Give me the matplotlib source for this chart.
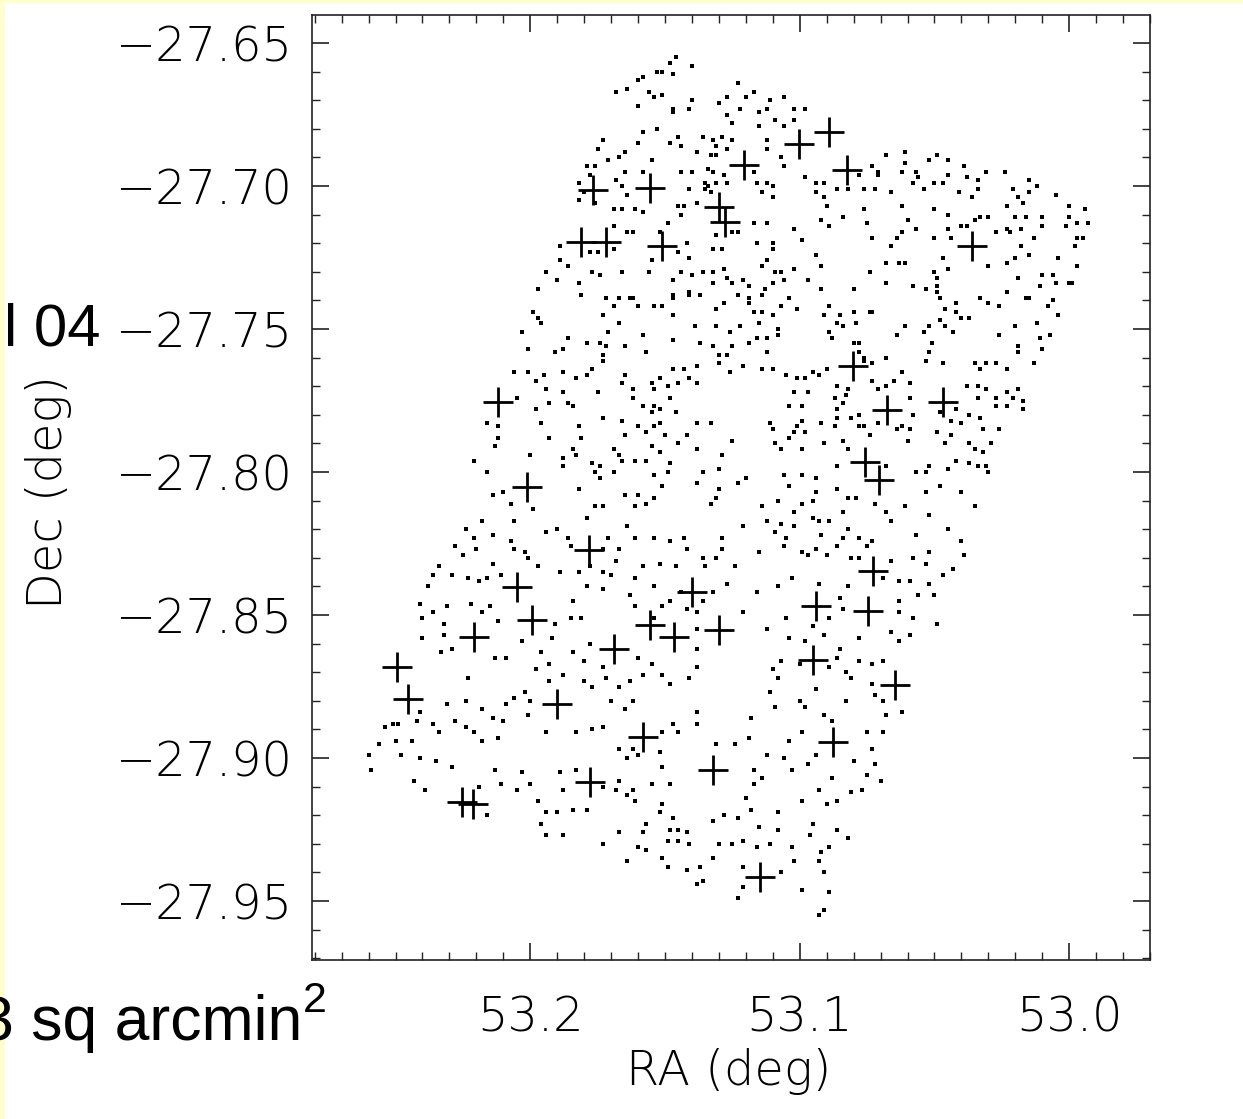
import numpy as np
import matplotlib
matplotlib.use('Agg')
import matplotlib.pyplot as plt
from matplotlib.ticker import MultipleLocator, FixedLocator, FuncFormatter
from matplotlib.patches import Rectangle

# -----------------------
# Data (RA, Dec in degrees)
# -----------------------
ra_ticks = [53.2, 53.1, 53.0]
dec_ticks = [-27.65, -27.70, -27.75, -27.80, -27.85, -27.90, -27.95]
ra_range = (53.281, 52.970)
dec_range = (-27.9706, -27.6402)

# bright sources (plus symbols)
cross_ra = [53.0891, 53.1002, 53.0824, 53.1206, 53.1766, 53.1555, 53.1299, 53.1276,
            53.1811, 53.1718, 53.1510, 53.0360, 53.0801, 53.2119, 53.0675, 53.0468,
            53.0757, 53.0705, 53.2011, 53.1781, 53.0727, 53.2048, 53.1399, 53.1993,
            53.0939, 53.0746, 53.2208, 53.1555, 53.1466, 53.1299, 53.1688, 53.2494,
            53.0950, 53.2453, 53.0646, 53.1900, 53.1581, 53.0876, 53.1321, 53.1777,
            53.2252, 53.2212, 53.1147]
cross_dec = [-27.6811, -27.6853, -27.6944, -27.6927, -27.7014, -27.7007, -27.7073, -27.7126,
             -27.7196, -27.7196, -27.7210, -27.7210, -27.7629, -27.7755, -27.7783, -27.7755,
             -27.7965, -27.8028, -27.8052, -27.8273, -27.8346, -27.8402, -27.8420, -27.8517,
             -27.8469, -27.8486, -27.8577, -27.8535, -27.8577, -27.8552, -27.8619, -27.8682,
             -27.8657, -27.8794, -27.8745, -27.8811, -27.8927, -27.8944, -27.9042, -27.9084,
             -27.9154, -27.9161, -27.9416]

# faint field objects (small dots)
field_dots = np.array([
    (53.148, -27.657), (53.146, -27.655), (53.140, -27.658), (53.160, -27.663), (53.158, -27.662),
    (53.153, -27.660), (53.151, -27.660), (53.147, -27.661), (53.168, -27.667), (53.164, -27.666),
    (53.156, -27.667), (53.154, -27.669), (53.151, -27.668), (53.123, -27.664), (53.160, -27.672),
    (53.147, -27.673), (53.147, -27.674), (53.141, -27.673), (53.140, -27.670), (53.130, -27.671),
    (53.127, -27.669), (53.120, -27.669), (53.117, -27.667), (53.127, -27.675), (53.125, -27.678),
    (53.122, -27.673), (53.115, -27.674), (53.112, -27.673), (53.111, -27.670), (53.106, -27.669),
    (53.102, -27.673), (53.098, -27.673), (53.109, -27.677), (53.106, -27.679), (53.102, -27.677),
    (53.115, -27.679), (53.158, -27.681), (53.153, -27.680), (53.145, -27.683), (53.148, -27.685),
    (53.144, -27.686), (53.136, -27.683), (53.132, -27.684), (53.129, -27.683), (53.125, -27.684),
    (53.131, -27.686), (53.127, -27.687), (53.131, -27.689), (53.133, -27.689), (53.138, -27.688),
    (53.112, -27.684), (53.112, -27.687), (53.173, -27.684), (53.175, -27.687), (53.160, -27.685),
    (53.165, -27.688), (53.171, -27.691), (53.167, -27.690), (53.155, -27.691), (53.176, -27.693),
    (53.165, -27.695), (53.158, -27.695), (53.178, -27.696), (53.168, -27.698), (53.166, -27.700),
    (53.164, -27.703), (53.144, -27.695), (53.140, -27.695), (53.134, -27.694), (53.132, -27.695),
    (53.128, -27.696), (53.135, -27.699), (53.131, -27.699), (53.127, -27.699), (53.141, -27.701),
    (53.135, -27.701), (53.117, -27.695), (53.116, -27.699), (53.112, -27.699), (53.110, -27.700),
    (53.114, -27.702), (53.110, -27.704), (53.107, -27.690), (53.106, -27.693), (53.098, -27.697),
    (53.094, -27.699), (53.091, -27.699), (53.086, -27.701), (53.082, -27.701), (53.076, -27.701),
    (53.072, -27.701), (53.073, -27.693), (53.071, -27.696), (53.078, -27.696), (53.094, -27.702),
    (53.091, -27.704), (53.090, -27.707), (53.084, -27.711), (53.076, -27.708), (53.075, -27.713),
    (53.089, -27.714), (53.092, -27.712), (53.102, -27.715), (53.099, -27.719), (53.094, -27.724),
    (53.092, -27.728), (53.102, -27.729), (53.110, -27.722), (53.110, -27.720), (53.112, -27.726),
    (53.114, -27.728), (53.109, -27.730), (53.107, -27.730), (53.117, -27.713), (53.112, -27.713),
    (53.116, -27.720), (53.123, -27.716), (53.125, -27.716), (53.131, -27.717), (53.132, -27.722),
    (53.129, -27.722), (53.142, -27.720), (53.141, -27.725), (53.144, -27.730), (53.136, -27.730),
    (53.132, -27.730), (53.128, -27.729), (53.127, -27.732), (53.125, -27.734), (53.121, -27.733),
    (53.119, -27.735), (53.113, -27.736), (53.110, -27.734), (53.106, -27.733), (53.097, -27.733),
    (53.092, -27.736), (53.080, -27.736), (53.074, -27.730), (53.145, -27.723), (53.149, -27.713),
    (53.144, -27.710), (53.145, -27.707), (53.138, -27.706), (53.143, -27.707), (53.134, -27.700),
    (53.133, -27.702), (53.152, -27.716), (53.155, -27.726), (53.162, -27.716), (53.164, -27.716),
    (53.169, -27.714), (53.178, -27.723), (53.175, -27.723), (53.169, -27.722), (53.189, -27.721),
    (53.186, -27.728), (53.189, -27.726), (53.194, -27.730), (53.190, -27.733), (53.182, -27.734),
    (53.177, -27.730), (53.174, -27.731), (53.166, -27.730), (53.156, -27.730), (53.147, -27.733),
    (53.140, -27.731), (53.132, -27.734), (53.197, -27.736), (53.172, -27.739), (53.163, -27.739),
    (53.147, -27.738), (53.141, -27.737), (53.176, -27.706), (53.169, -27.708), (53.166, -27.708),
    (53.161, -27.708), (53.158, -27.709), (53.182, -27.705), (53.180, -27.702), (53.182, -27.699),
    (53.179, -27.693),
    (53.068, -27.689), (53.061, -27.688), (53.061, -27.692), (53.052, -27.691), (53.049, -27.689),
    (53.045, -27.691), (53.071, -27.695), (53.062, -27.695), (53.057, -27.695), (53.056, -27.697),
    (53.058, -27.699), (53.054, -27.701), (53.050, -27.699), (53.047, -27.699), (53.066, -27.702),
    (53.045, -27.696), (53.039, -27.693), (53.038, -27.697), (53.034, -27.698), (53.031, -27.695),
    (53.024, -27.695), (53.041, -27.702), (53.034, -27.701), (53.036, -27.704), (53.021, -27.701),
    (53.015, -27.702), (53.015, -27.698), (53.012, -27.700), (53.005, -27.703), (53.019, -27.704),
    (53.023, -27.707), (53.017, -27.706), (53.000, -27.707), (52.994, -27.708), (52.993, -27.713),
    (52.997, -27.713), (53.000, -27.711), (53.001, -27.714), (53.010, -27.711), (53.010, -27.714),
    (53.016, -27.711), (53.020, -27.711), (53.023, -27.715), (53.022, -27.716), (53.027, -27.716),
    (53.018, -27.715), (53.013, -27.718), (52.997, -27.718), (52.995, -27.718), (52.998, -27.721),
    (53.004, -27.725), (52.997, -27.728), (52.999, -27.734), (53.000, -27.734), (53.005, -27.734),
    (53.010, -27.731), (53.006, -27.731), (53.011, -27.735), (53.015, -27.724), (53.020, -27.725),
    (53.023, -27.727), (53.019, -27.732), (53.023, -27.737), (53.016, -27.739), (53.015, -27.739),
    (53.006, -27.740), (53.008, -27.742), (53.004, -27.745), (53.012, -27.748), (53.011, -27.753),
    (53.007, -27.752), (53.010, -27.757), (53.013, -27.762), (53.020, -27.749), (53.019, -27.756),
    (53.019, -27.758), (53.026, -27.752), (53.023, -27.764), (53.027, -27.762), (53.031, -27.762),
    (53.035, -27.762), (53.033, -27.764), (53.030, -27.741), (53.033, -27.739), (53.026, -27.742),
    (53.042, -27.741), (53.037, -27.746), (53.040, -27.746), (53.048, -27.747), (53.046, -27.749),
    (53.043, -27.751), (53.054, -27.751), (53.052, -27.749), (53.061, -27.749), (53.064, -27.752),
    (53.051, -27.755), (53.052, -27.758), (53.053, -27.761), (53.047, -27.762), (53.062, -27.765),
    (53.059, -27.769), (53.065, -27.768), (53.068, -27.770), (53.073, -27.768), (53.068, -27.760),
    (53.076, -27.760), (53.073, -27.744), (53.049, -27.737), (53.048, -27.739), (53.046, -27.743),
    (53.042, -27.744), (53.045, -27.729), (53.047, -27.725), (53.050, -27.730), (53.049, -27.732),
    (53.049, -27.735), (53.053, -27.736), (53.058, -27.735), (53.068, -27.734), (53.074, -27.730),
    (53.068, -27.727), (53.063, -27.727), (53.061, -27.727), (53.045, -27.710), (53.035, -27.712),
    (53.033, -27.711), (53.030, -27.711), (53.040, -27.714), (53.038, -27.714), (53.045, -27.715),
    (53.044, -27.718), (53.050, -27.718), (53.060, -27.712), (53.057, -27.715), (53.062, -27.716),
    (53.064, -27.718), (53.073, -27.718), (53.066, -27.721), (53.062, -27.707), (53.050, -27.708),
    (53.030, -27.728), (53.018, -27.721),
    (53.038, -27.770), (53.034, -27.770), (53.031, -27.771), (53.027, -27.774), (53.027, -27.777),
    (53.023, -27.772), (53.019, -27.771), (53.023, -27.777), (53.021, -27.774), (53.017, -27.775),
    (53.017, -27.778), (53.034, -27.774), (53.042, -27.778), (53.044, -27.782), (53.040, -27.783),
    (53.037, -27.780), (53.033, -27.781), (53.032, -27.785), (53.026, -27.785), (53.049, -27.786),
    (53.044, -27.787), (53.046, -27.790), (53.037, -27.790), (53.035, -27.792), (53.032, -27.793),
    (53.029, -27.790), (53.042, -27.796), (53.037, -27.797), (53.034, -27.798), (53.031, -27.798),
    (53.030, -27.800), (53.045, -27.799), (53.048, -27.805), (53.053, -27.807), (53.040, -27.807),
    (53.053, -27.800), (53.057, -27.800), (53.052, -27.798), (53.060, -27.789), (53.062, -27.784),
    (53.059, -27.785), (53.058, -27.780), (53.064, -27.785), (53.059, -27.774), (53.048, -27.779),
    (53.061, -27.812), (53.052, -27.815), (53.045, -27.820), (53.040, -27.824), (53.057, -27.822),
    (53.066, -27.817), (53.035, -27.812),
    (53.181, -27.738), (53.172, -27.739), (53.167, -27.739), (53.162, -27.739), (53.160, -27.742),
    (53.169, -27.742), (53.151, -27.742), (53.147, -27.739), (53.141, -27.738), (53.137, -27.738),
    (53.131, -27.743), (53.128, -27.741), (53.123, -27.738), (53.119, -27.739), (53.114, -27.738),
    (53.119, -27.741), (53.117, -27.744), (53.114, -27.744), (53.110, -27.745), (53.107, -27.742),
    (53.104, -27.739), (53.101, -27.743), (53.089, -27.742), (53.091, -27.745), (53.085, -27.745),
    (53.080, -27.744), (53.074, -27.744), (53.079, -27.748), (53.084, -27.749), (53.086, -27.748),
    (53.089, -27.751), (53.088, -27.753), (53.080, -27.755), (53.078, -27.755), (53.078, -27.758),
    (53.076, -27.761), (53.073, -27.762), (53.068, -27.760), (53.068, -27.770), (53.071, -27.771),
    (53.073, -27.768), (53.082, -27.771), (53.086, -27.770), (53.087, -27.774), (53.084, -27.776),
    (53.083, -27.773), (53.086, -27.778), (53.086, -27.781), (53.081, -27.781), (53.078, -27.780),
    (53.076, -27.784), (53.071, -27.783), (53.074, -27.787), (53.078, -27.784), (53.087, -27.784),
    (53.084, -27.789), (53.091, -27.790), (53.082, -27.792), (53.092, -27.783), (53.099, -27.782),
    (53.098, -27.786), (53.101, -27.784), (53.102, -27.786), (53.104, -27.788), (53.099, -27.792),
    (53.107, -27.792), (53.109, -27.790), (53.110, -27.785), (53.111, -27.783), (53.104, -27.777),
    (53.099, -27.777), (53.097, -27.772), (53.102, -27.772), (53.105, -27.766), (53.101, -27.767),
    (53.098, -27.767), (53.095, -27.765), (53.093, -27.766), (53.090, -27.764), (53.110, -27.764),
    (53.114, -27.764), (53.121, -27.763), (53.126, -27.765), (53.130, -27.762), (53.130, -27.759),
    (53.127, -27.759), (53.125, -27.756), (53.132, -27.756), (53.126, -27.751), (53.119, -27.755),
    (53.116, -27.753), (53.112, -27.753), (53.108, -27.752), (53.108, -27.750), (53.112, -27.758),
    (53.115, -27.748), (53.122, -27.749), (53.131, -27.749), (53.139, -27.749), (53.137, -27.755),
    (53.147, -27.754), (53.147, -27.745), (53.154, -27.742), (53.158, -27.752), (53.157, -27.758),
    (53.165, -27.756), (53.171, -27.751), (53.167, -27.748), (53.173, -27.745), (53.174, -27.755),
    (53.172, -27.756), (53.173, -27.759), (53.173, -27.761), (53.179, -27.755), (53.186, -27.753),
    (53.188, -27.757), (53.191, -27.758), (53.196, -27.748), (53.197, -27.746), (53.199, -27.744),
    (53.203, -27.751), (53.201, -27.757), (53.206, -27.765), (53.201, -27.765), (53.198, -27.768),
    (53.195, -27.766), (53.188, -27.765), (53.183, -27.767), (53.179, -27.766), (53.177, -27.764),
    (53.194, -27.771), (53.188, -27.772), (53.193, -27.776), (53.186, -27.776), (53.184, -27.777),
    (53.175, -27.772), (53.198, -27.778), (53.205, -27.774), (53.196, -27.783), (53.212, -27.784),
    (53.216, -27.783), (53.212, -27.788), (53.213, -27.791), (53.193, -27.788), (53.182, -27.784),
    (53.181, -27.788), (53.173, -27.781), (53.166, -27.782), (53.169, -27.792), (53.167, -27.794),
    (53.165, -27.787), (53.160, -27.784), (53.157, -27.786), (53.152, -27.783), (53.155, -27.779),
    (53.152, -27.778), (53.148, -27.774), (53.146, -27.779), (53.150, -27.787), (53.154, -27.784),
    (53.154, -27.777), (53.158, -27.777), (53.162, -27.774), (53.154, -27.771), (53.149, -27.770),
    (53.155, -27.769), (53.152, -27.767), (53.145, -27.769), (53.141, -27.767), (53.138, -27.769),
    (53.138, -27.763), (53.143, -27.764), (53.147, -27.764), (53.165, -27.766), (53.166, -27.769),
    (53.162, -27.771), (53.155, -27.791), (53.152, -27.793), (53.148, -27.797), (53.145, -27.790),
    (53.138, -27.792), (53.138, -27.804), (53.136, -27.800), (53.130, -27.799), (53.129, -27.794),
    (53.125, -27.789), (53.133, -27.783), (53.138, -27.783), (53.142, -27.787), (53.157, -27.796),
    (53.161, -27.796), (53.166, -27.796), (53.169, -27.800), (53.174, -27.798), (53.177, -27.797),
    (53.176, -27.800), (53.174, -27.802), (53.183, -27.794), (53.184, -27.792), (53.188, -27.795),
    (53.188, -27.798), (53.200, -27.794), (53.216, -27.800), (53.221, -27.796), (53.207, -27.811),
    (53.210, -27.807), (53.214, -27.808), (53.199, -27.813), (53.206, -27.817), (53.182, -27.806),
    (53.176, -27.812), (53.173, -27.812), (53.165, -27.808), (53.160, -27.808), (53.157, -27.811),
    (53.154, -27.809), (53.161, -27.812), (53.154, -27.801), (53.149, -27.800), (53.151, -27.805),
    (53.130, -27.806), (53.131, -27.809), (53.133, -27.811), (53.123, -27.804), (53.120, -27.802),
    (53.114, -27.812), (53.108, -27.810), (53.106, -27.801), (53.104, -27.805), (53.099, -27.801),
    (53.094, -27.802), (53.094, -27.807), (53.095, -27.810), (53.099, -27.811), (53.102, -27.814),
    (53.112, -27.817), (53.107, -27.818), (53.109, -27.821), (53.105, -27.823), (53.102, -27.819),
    (53.095, -27.816), (53.093, -27.817), (53.089, -27.817), (53.092, -27.822), (53.084, -27.814),
    (53.082, -27.820), (53.078, -27.823), (53.073, -27.824), (53.075, -27.826), (53.086, -27.806),
    (53.082, -27.809), (53.079, -27.809), (53.072, -27.811), (53.086, -27.798), (53.068, -27.798),
    (53.068, -27.814), (53.121, -27.819), (53.129, -27.823), (53.129, -27.827), (53.143, -27.823),
    (53.148, -27.824), (53.142, -27.827), (53.136, -27.830), (53.115, -27.828), (53.106, -27.826),
    (53.099, -27.828), (53.094, -27.827), (53.086, -27.826), (53.078, -27.830), (53.084, -27.823),
    (53.154, -27.823), (53.161, -27.823), (53.171, -27.823), (53.173, -27.827), (53.167, -27.827),
    (53.190, -27.820), (53.186, -27.823), (53.185, -27.826), (53.194, -27.821), (53.206, -27.827),
    (53.202, -27.828), (53.207, -27.824), (53.214, -27.822), (53.220, -27.827), (53.221, -27.823),
    (53.179, -27.816), (53.164, -27.819), (53.228, -27.826), (53.224, -27.820), (53.218, -27.817),
    (53.234, -27.833), (53.225, -27.829), (53.229, -27.836), (53.236, -27.836), (53.223, -27.837),
    (53.219, -27.838), (53.216, -27.837), (53.211, -27.836), (53.214, -27.832), (53.201, -27.830),
    (53.197, -27.833), (53.189, -27.835), (53.182, -27.835), (53.178, -27.833), (53.173, -27.835),
    (53.168, -27.831), (53.170, -27.836), (53.158, -27.833), (53.152, -27.832), (53.146, -27.833),
    (53.161, -27.837), (53.154, -27.840), (53.148, -27.845), (53.144, -27.842), (53.179, -27.840),
    (53.173, -27.841), (53.184, -27.845), (53.185, -27.851), (53.181, -27.851), (53.191, -27.853),
    (53.212, -27.852), (53.218, -27.849), (53.215, -27.847), (53.222, -27.846), (53.231, -27.847),
    (53.236, -27.849), (53.241, -27.846), (53.238, -27.840), (53.240, -27.851), (53.232, -27.853),
    (53.232, -27.857), (53.240, -27.858), (53.229, -27.862), (53.233, -27.863), (53.213, -27.865),
    (53.209, -27.865), (53.203, -27.859), (53.196, -27.863), (53.192, -27.858), (53.184, -27.863),
    (53.180, -27.866), (53.178, -27.860), (53.173, -27.868), (53.188, -27.871), (53.193, -27.867),
    (53.198, -27.869), (53.193, -27.873), (53.180, -27.873), (53.177, -27.875), (53.172, -27.872),
    (53.167, -27.875), (53.170, -27.880), (53.163, -27.873), (53.162, -27.880), (53.165, -27.883),
    (53.158, -27.871), (53.155, -27.867), (53.151, -27.871), (53.148, -27.874), (53.141, -27.872),
    (53.138, -27.868), (53.160, -27.865), (53.163, -27.843), (53.161, -27.847), (53.154, -27.851),
    (53.151, -27.847), (53.142, -27.848), (53.138, -27.849), (53.138, -27.855), (53.138, -27.862),
    (53.138, -27.884), (53.138, -27.888), (53.147, -27.888), (53.145, -27.891), (53.151, -27.891),
    (53.162, -27.897), (53.167, -27.897), (53.164, -27.900), (53.160, -27.899), (53.152, -27.898),
    (53.151, -27.903), (53.148, -27.909), (53.155, -27.909), (53.162, -27.911), (53.161, -27.915),
    (53.151, -27.916), (53.152, -27.919), (53.147, -27.921), (53.148, -27.925), (53.145, -27.925),
    (53.142, -27.926), (53.149, -27.929), (53.145, -27.929), (53.141, -27.930), (53.157, -27.923),
    (53.158, -27.926), (53.157, -27.932), (53.160, -27.931), (53.151, -27.935), (53.149, -27.938),
    (53.142, -27.939), (53.138, -27.944), (53.173, -27.930), (53.167, -27.926), (53.164, -27.936),
    (53.168, -27.911), (53.179, -27.918), (53.184, -27.918), (53.194, -27.919), (53.190, -27.919),
    (53.196, -27.923), (53.194, -27.927), (53.188, -27.927), (53.197, -27.915), (53.205, -27.911),
    (53.211, -27.909), (53.213, -27.904), (53.203, -27.905), (53.200, -27.909), (53.189, -27.905),
    (53.183, -27.904), (53.188, -27.911), (53.173, -27.910), (53.167, -27.908), (53.164, -27.913),
    (53.219, -27.910), (53.216, -27.920), (53.229, -27.903), (53.239, -27.911), (53.243, -27.908),
    (53.241, -27.900), (53.235, -27.901), (53.248, -27.899), (53.256, -27.895), (53.259, -27.904),
    (53.260, -27.899), (53.251, -27.888), (53.254, -27.889), (53.249, -27.888), (53.242, -27.887),
    (53.241, -27.884), (53.236, -27.888), (53.234, -27.891), (53.244, -27.894), (53.250, -27.894),
    (53.228, -27.887), (53.224, -27.889), (53.221, -27.891), (53.218, -27.894), (53.214, -27.886),
    (53.210, -27.887), (53.212, -27.893), (53.231, -27.881), (53.224, -27.880), (53.218, -27.883),
    (53.209, -27.881), (53.206, -27.879), (53.202, -27.877), (53.200, -27.880), (53.201, -27.885),
    (53.194, -27.891), (53.183, -27.891), (53.177, -27.890), (53.173, -27.889), (53.223, -27.872),
    (53.115, -27.828), (53.097, -27.829), (53.090, -27.829), (53.081, -27.830), (53.066, -27.831),
    (53.058, -27.830), (53.053, -27.832), (53.052, -27.828), (53.039, -27.829), (53.043, -27.834),
    (53.047, -27.836), (53.052, -27.839), (53.059, -27.838), (53.063, -27.838), (53.082, -27.840),
    (53.069, -27.837), (53.093, -27.839), (53.103, -27.837), (53.108, -27.840), (53.116, -27.842),
    (53.121, -27.849), (53.124, -27.833), (53.131, -27.830), (53.135, -27.833), (53.127, -27.839),
    (53.132, -27.842), (53.136, -27.845), (53.085, -27.844), (53.084, -27.848), (53.089, -27.851),
    (53.063, -27.845), (53.063, -27.849), (53.058, -27.851), (53.056, -27.843), (53.050, -27.843),
    (53.049, -27.853), (53.066, -27.856), (53.063, -27.859), (53.059, -27.857), (53.078, -27.858),
    (53.105, -27.851), (53.112, -27.855), (53.104, -27.858), (53.098, -27.859), (53.095, -27.854),
    (53.091, -27.857), (53.085, -27.862), (53.086, -27.865), (53.089, -27.868), (53.083, -27.870),
    (53.081, -27.872), (53.078, -27.866), (53.073, -27.867), (53.069, -27.866), (53.073, -27.874),
    (53.072, -27.878), (53.069, -27.880), (53.068, -27.885), (53.062, -27.884), (53.107, -27.866),
    (53.110, -27.869), (53.108, -27.872), (53.111, -27.877), (53.100, -27.867), (53.094, -27.876),
    (53.100, -27.880), (53.098, -27.882), (53.109, -27.882), (53.118, -27.886), (53.091, -27.885),
    (53.088, -27.887), (53.083, -27.880), (53.099, -27.891), (53.104, -27.894), (53.106, -27.900),
    (53.103, -27.904), (53.112, -27.899), (53.117, -27.904), (53.114, -27.907), (53.097, -27.902),
    (53.094, -27.899), (53.088, -27.907), (53.093, -27.911), (53.099, -27.915), (53.090, -27.916),
    (53.086, -27.915), (53.081, -27.912), (53.077, -27.911), (53.075, -27.906), (53.072, -27.902),
    (53.070, -27.908), (53.080, -27.901), (53.073, -27.897), (53.069, -27.891), (53.075, -27.891),
    (53.131, -27.895), (53.124, -27.895), (53.119, -27.893), (53.117, -27.909), (53.120, -27.914),
    (53.118, -27.918), (53.108, -27.919), (53.115, -27.924), (53.108, -27.925), (53.095, -27.923),
    (53.096, -27.927), (53.086, -27.925), (53.082, -27.928), (53.128, -27.920), (53.123, -27.921),
    (53.132, -27.922), (53.130, -27.930), (53.132, -27.935), (53.125, -27.930), (53.121, -27.929),
    (53.116, -27.931), (53.111, -27.930), (53.121, -27.938), (53.107, -27.940), (53.103, -27.931),
    (53.102, -27.936), (53.092, -27.933), (53.089, -27.931), (53.093, -27.936), (53.091, -27.940),
    (53.121, -27.945), (53.123, -27.949), (53.099, -27.946), (53.089, -27.947), (53.091, -27.953),
    (53.093, -27.955), (53.136, -27.943), (53.137, -27.938),
])

# -----------------------
# Plotting
# -----------------------
plt.rcParams['mathtext.fontset'] = 'custom'
plt.rcParams['mathtext.rm'] = 'Liberation Sans'

fig = plt.figure(figsize=(12.43, 11.19), dpi=100, facecolor='white')

# pale yellow slide border showing at the top/left edges
fig.patches.append(Rectangle((0, 1 - 3 / 1119), 1, 3 / 1119, transform=fig.transFigure,
                             facecolor='#FFFFCC', edgecolor='none', zorder=0))
fig.patches.append(Rectangle((0, 0), 5 / 1243, 1, transform=fig.transFigure,
                             facecolor='#FFFFCC', edgecolor='none', zorder=0))

ax = fig.add_axes([0.2510, 0.1421, 0.6742, 0.8445])

ax.plot(field_dots[:, 0], field_dots[:, 1], linestyle='none', marker='s',
        markersize=2.5, markeredgewidth=0, color='black')
ax.plot(cross_ra, cross_dec, linestyle='none', marker='+',
        markersize=21.5, markeredgewidth=2.0, color='black')

ax.set_xlim(*ra_range)
ax.set_ylim(*dec_range)

tick_font = dict(family='DejaVu Sans', size=34.5, weight='light')

ax.xaxis.set_major_locator(FixedLocator(ra_ticks))
ax.xaxis.set_minor_locator(MultipleLocator(0.01))
ax.yaxis.set_major_locator(FixedLocator(dec_ticks))
ax.yaxis.set_minor_locator(MultipleLocator(0.01))
ax.xaxis.set_major_formatter(FuncFormatter(lambda v, p: f"{v:.1f}"))
ax.yaxis.set_major_formatter(FuncFormatter(lambda v, p: f"{v:.2f}".replace('-', '\u2212')))

ax.tick_params(which='both', direction='in', top=True, right=True, color='#222222')
ax.tick_params(which='major', length=12.2, width=1.2)
ax.tick_params(which='minor', length=5.8, width=1.0)
ax.tick_params(axis='y', which='major', pad=13.5)
ax.tick_params(axis='x', which='major', pad=24.5)
for lab in ax.get_xticklabels() + ax.get_yticklabels():
    lab.set_fontfamily('DejaVu Sans')
    lab.set_fontsize(34.5)
    lab.set_fontweight('light')

for sp in ax.spines.values():
    sp.set_linewidth(1.2)
    sp.set_color('#222222')

ax.set_xlabel('RA (deg)', fontdict=tick_font)
ax.set_ylabel('Dec (deg)', fontdict=tick_font)
ax.xaxis.set_label_coords(0.4976, -0.0931)
ax.yaxis.set_label_coords(-0.2864, 0.4947)

# slide text fragments that overlap the figure on the left
fig.text(100 / 1243, 1 - 345 / 1119, 'l 04', family='Liberation Sans', size=43,
         ha='right', va='baseline', color='black')
fig.text(302 / 1243, 1 - 1040 / 1119, '3 sq arcmin', family='Liberation Sans',
         size=45, ha='right', va='baseline', color='black')
fig.text(303 / 1243, 1 - 1012 / 1119, '2', family='Liberation Sans',
         size=31, ha='left', va='baseline', color='black')

fig.savefig('out.png', dpi=100, facecolor=fig.get_facecolor())
